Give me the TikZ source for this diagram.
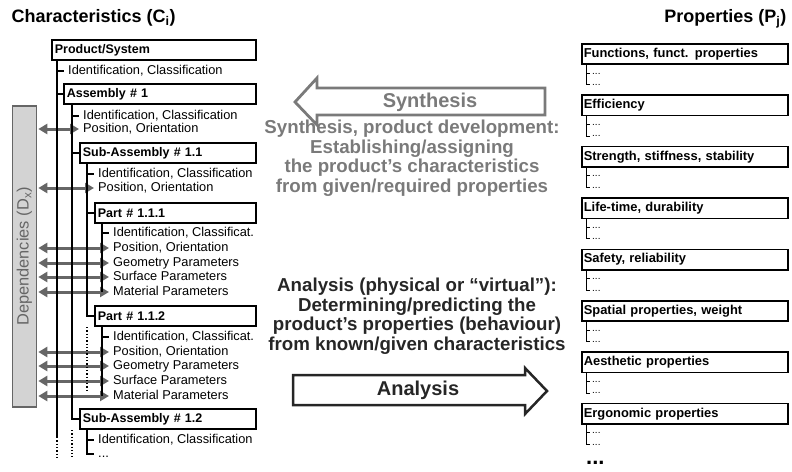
\documentclass[tikz,border=0pt]{standalone}
\usepackage{fontspec}
\setmainfont{Liberation Sans}
\usetikzlibrary{arrows.meta,positioning}

\definecolor{depgray}{HTML}{666666}
\definecolor{depfill}{HTML}{D3D3D3}
\definecolor{syngray}{HTML}{7A7A7A}
\definecolor{anadark}{HTML}{262626}

\begin{document}
\begin{tikzpicture}[x=1pt,y=-1pt,node distance=29.3pt]
	\tikzstyle{cbox}
	  =[draw, line width=1.6pt, rectangle, minimum height=20.5pt,
	  inner xsep=3pt, inner ysep=0pt, anchor=west, align=left,
	  font=\fontsize{12.5}{14}\selectfont\bfseries]
	\tikzstyle{pbox}
	  =[cbox, text width=202.4pt, inner xsep=2pt,
	  font=\fontsize{12.9}{14}\selectfont\bfseries]
	\tikzstyle{lbl}
	  =[inner xsep=4pt, inner ysep=0pt, anchor=west, text height=9.5pt,
	  text depth=2.8pt, font=\fontsize{12.8}{14}\selectfont]
	\tikzstyle{pdots}
	  =[inner xsep=2pt, inner ysep=0pt, anchor=west, text height=2pt,
	  text depth=0pt, font=\fontsize{10}{10}\selectfont]
	\tikzstyle{tree}=[line width=1.3pt]
	\tikzstyle{ptree}=[line width=0.9pt]
	\tikzstyle{dep}
	  =[draw=depgray, line width=3pt,
	  {Triangle[length=9pt,width=10pt]}-{Triangle[length=9pt,width=10pt]}]
	\tikzstyle{midtext}
	  =[align=center, font=\fontsize{18.7}{19.5}\selectfont\bfseries]
	\tikzstyle{arrowlbl}=[font=\fontsize{20}{20}\selectfont\bfseries]

	\useasboundingbox (0,0) rectangle (792,471);

	% titles
	\node[anchor=west, font=\fontsize{18}{20}\selectfont\bfseries] (ctitle)
	  at (8,18) {Characteristics (C\textsubscript{i})};
	\node[anchor=east, font=\fontsize{18}{20}\selectfont\bfseries] (ptitle)
	  at (790,19) {Properties (P\textsubscript{j})};

	% tree levels
	\coordinate (l0) at (57,437);
	\coordinate (l1) at (72,419);
	\coordinate (l2) at (87,392);
	\coordinate (l3) at (102,0);
	\coordinate (pl) at (586,0);

	% characteristics
	\node[cbox, text width=198.4pt] (C0) at (51,50) {Product/System};
	\node[lbl] (c0a) at (64,71) {Identification, Classification};
	\node[cbox, text width=186.4pt] (C1) at (63,94) {Assembly \# 1};
	\node[lbl] (c1a) at (79,116) {Identification, Classification};
	\node[lbl] (c1b) at (79,129) {Position, Orientation};
	\node[cbox, text width=170.4pt] (C11) at (79,153) {Sub-Assembly \# 1.1};
	\node[lbl] (c11a) at (94,174) {Identification, Classification};
	\node[lbl] (c11b) at (94,188) {Position, Orientation};
	\node[cbox, text width=155.4pt] (C111) at (94,213) {Part \# 1.1.1};
	\node[lbl] (c111a) at (109,233) {Identification, Classificat.};
	\node[lbl] (c111b) at (109,248) {Position, Orientation};
	\node[lbl] (c111c) at (109,263) {Geometry Parameters};
	\node[lbl] (c111d) at (109,277) {Surface Parameters};
	\node[lbl] (c111e) at (109,292) {Material Parameters};
	\node[cbox, text width=155.4pt] (C112) at (94,316) {Part \# 1.1.2};
	\node[lbl] (c112a) at (109,337) {Identification, Classificat.};
	\node[lbl] (c112b) at (109,352) {Position, Orientation};
	\node[lbl] (c112c) at (109,366) {Geometry Parameters};
	\node[lbl] (c112d) at (109,381) {Surface Parameters};
	\node[lbl] (c112e) at (109,396) {Material Parameters};
	\node[cbox, text width=170.4pt] (C12) at (79,419) {Sub-Assembly \# 1.2};
	\node[lbl] (c12a) at (94,440) {Identification, Classification};
	\node[lbl] (c12b) at (94,454) {...};

	% dependencies
	\node[draw=depgray, fill=depfill, line width=1.3pt, minimum width=24pt,
	  minimum height=301pt, inner sep=0pt, outer xsep=1.8pt] (D)
	  at (24.5,256.5) {};
	\node[rotate=90, text=depgray, font=\fontsize{16.4}{18}\selectfont] (Dtxt)
	  at (D.center) {Dependencies (D\textsubscript{x})};

	\draw[dep] (D.east |- c1b.west) -- (c1b.west);
	\draw[dep] (D.east |- c11b.west) -- (c11b.west);
	\draw[dep] (D.east |- c111b.west) -- (c111b.west);
	\draw[dep] (D.east |- c111c.west) -- (c111c.west);
	\draw[dep] (D.east |- c111d.west) -- (c111d.west);
	\draw[dep] (D.east |- c111e.west) -- (c111e.west);
	\draw[dep] (D.east |- c112b.west) -- (c112b.west);
	\draw[dep] (D.east |- c112c.west) -- (c112c.west);
	\draw[dep] (D.east |- c112d.west) -- (c112d.west);
	\draw[dep] (D.east |- c112e.west) -- (c112e.west);

	% tree lines
	\draw[tree] (C0.south -| l0) -- (l0);
	\draw[tree] (l0 |- c0a.west) -- (c0a.west);
	\draw[tree] (l0 |- C1.west) -- (C1.west);
	\draw[tree, dotted] (l0) -- ++(0,20);

	\draw[tree] (C1.south -| l1) |- (C12.west);
	\draw[tree] (l1 |- c1a.west) -- (c1a.west);
	\draw[tree] (l1 |- C11.west) -- (C11.west);
	\draw[tree, dotted] (C12.south -| l1) -- ++(0,27);

	\draw[tree] (C11.south -| l2) |- (C112.west);
	\draw[tree] (l2 |- c11a.west) -- (c11a.west);
	\draw[tree] (l2 |- C111.west) -- (C111.west);
	\draw[tree, dotted] (C112.south -| l2) -- (l2);

	\draw[tree] (C111.south -| l3) -- (l3 |- c111e.west);
	\draw[tree] (l3 |- c111a.west) -- (c111a.west);

	\draw[tree] (C112.south -| l3) -- (l3 |- c112e.west);
	\draw[tree] (l3 |- c112a.west) -- (c112a.west);

	\draw[tree] (C12.south -| l2) |- (c12b.west);
	\draw[tree] (l2 |- c12a.west) -- (c12a.west);

	% properties
	\node[pbox] (P1) at (581,54) {Functions, funct. properties};
	\node[pbox] (P2) [below=of P1] {Efficiency};
	\node[pbox] (P3) [below=of P2] {Strength, stiffness, stability};
	\node[pbox] (P4) [below=of P3] {Life-time, durability};
	\node[pbox] (P5) [below=of P4] {Safety, reliability};
	\node[pbox] (P6) [below=of P5] {Spatial properties, weight};
	\node[pbox] (P7) [below=of P6] {Aesthetic properties};
	\node[pbox] (P8) [below=of P7] {Ergonomic properties};

	\node[pdots] (P1a) at ([xshift=9pt,yshift=-8pt]P1.south west) {...};
	\node[pdots] (P1b) at ([xshift=9pt,yshift=-19.5pt]P1.south west) {...};
	\node[pdots] (P2a) at ([xshift=9pt,yshift=-8pt]P2.south west) {...};
	\node[pdots] (P2b) at ([xshift=9pt,yshift=-19.5pt]P2.south west) {...};
	\node[pdots] (P3a) at ([xshift=9pt,yshift=-8pt]P3.south west) {...};
	\node[pdots] (P3b) at ([xshift=9pt,yshift=-19.5pt]P3.south west) {...};
	\node[pdots] (P4a) at ([xshift=9pt,yshift=-8pt]P4.south west) {...};
	\node[pdots] (P4b) at ([xshift=9pt,yshift=-19.5pt]P4.south west) {...};
	\node[pdots] (P5a) at ([xshift=9pt,yshift=-8pt]P5.south west) {...};
	\node[pdots] (P5b) at ([xshift=9pt,yshift=-19.5pt]P5.south west) {...};
	\node[pdots] (P6a) at ([xshift=9pt,yshift=-8pt]P6.south west) {...};
	\node[pdots] (P6b) at ([xshift=9pt,yshift=-19.5pt]P6.south west) {...};
	\node[pdots] (P7a) at ([xshift=9pt,yshift=-8pt]P7.south west) {...};
	\node[pdots] (P7b) at ([xshift=9pt,yshift=-19.5pt]P7.south west) {...};
	\node[pdots] (P8a) at ([xshift=9pt,yshift=-8pt]P8.south west) {...};
	\node[pdots] (P8b) at ([xshift=9pt,yshift=-19.5pt]P8.south west) {...};

	\draw[ptree] (P1.south -| pl) |- (P1b.west) (pl |- P1a.west) -- (P1a.west);
	\draw[ptree] (P2.south -| pl) |- (P2b.west) (pl |- P2a.west) -- (P2a.west);
	\draw[ptree] (P3.south -| pl) |- (P3b.west) (pl |- P3a.west) -- (P3a.west);
	\draw[ptree] (P4.south -| pl) |- (P4b.west) (pl |- P4a.west) -- (P4a.west);
	\draw[ptree] (P5.south -| pl) |- (P5b.west) (pl |- P5a.west) -- (P5a.west);
	\draw[ptree] (P6.south -| pl) |- (P6b.west) (pl |- P6a.west) -- (P6a.west);
	\draw[ptree] (P7.south -| pl) |- (P7b.west) (pl |- P7a.west) -- (P7a.west);
	\draw[ptree] (P8.south -| pl) |- (P8b.west) (pl |- P8a.west) -- (P8a.west);

	\node[anchor=west, inner sep=0pt, text height=4pt, text depth=0pt,
	  font=\fontsize{22}{22}\selectfont\bfseries] (Pmore)
	  at (586,462) {...};

	% synthesis / analysis
	\node[arrowlbl, text=syngray] (syn) at (430,102) {Synthesis};
	\draw[syngray, line width=2.8pt, line join=miter]
	  (295,102) -- (317,78) -- (317,88) -- (545,88) -- (545,115)
	  -- (317,115) -- (317,125) -- cycle;
	\node[midtext, text=syngray] (syntxt) at (412,158)
	  {Synthesis, product development:\\Establishing/assigning\\
	  the product’s characteristics\\from given/required properties};

	\node[midtext, text=anadark] (anatxt) at (417,316)
	  {Analysis (physical or “virtual”):\\Determining/predicting the\\
	  product’s properties (behaviour)\\from known/given characteristics};
	\node[arrowlbl, text=anadark] (ana) at (418,390) {Analysis};
	\draw[anadark, line width=2.5pt, line join=miter]
	  (293,375) -- (525,375) -- (525,368) -- (547,391) -- (525,414)
	  -- (525,405) -- (293,405) -- cycle;
\end{tikzpicture}
\end{document}
